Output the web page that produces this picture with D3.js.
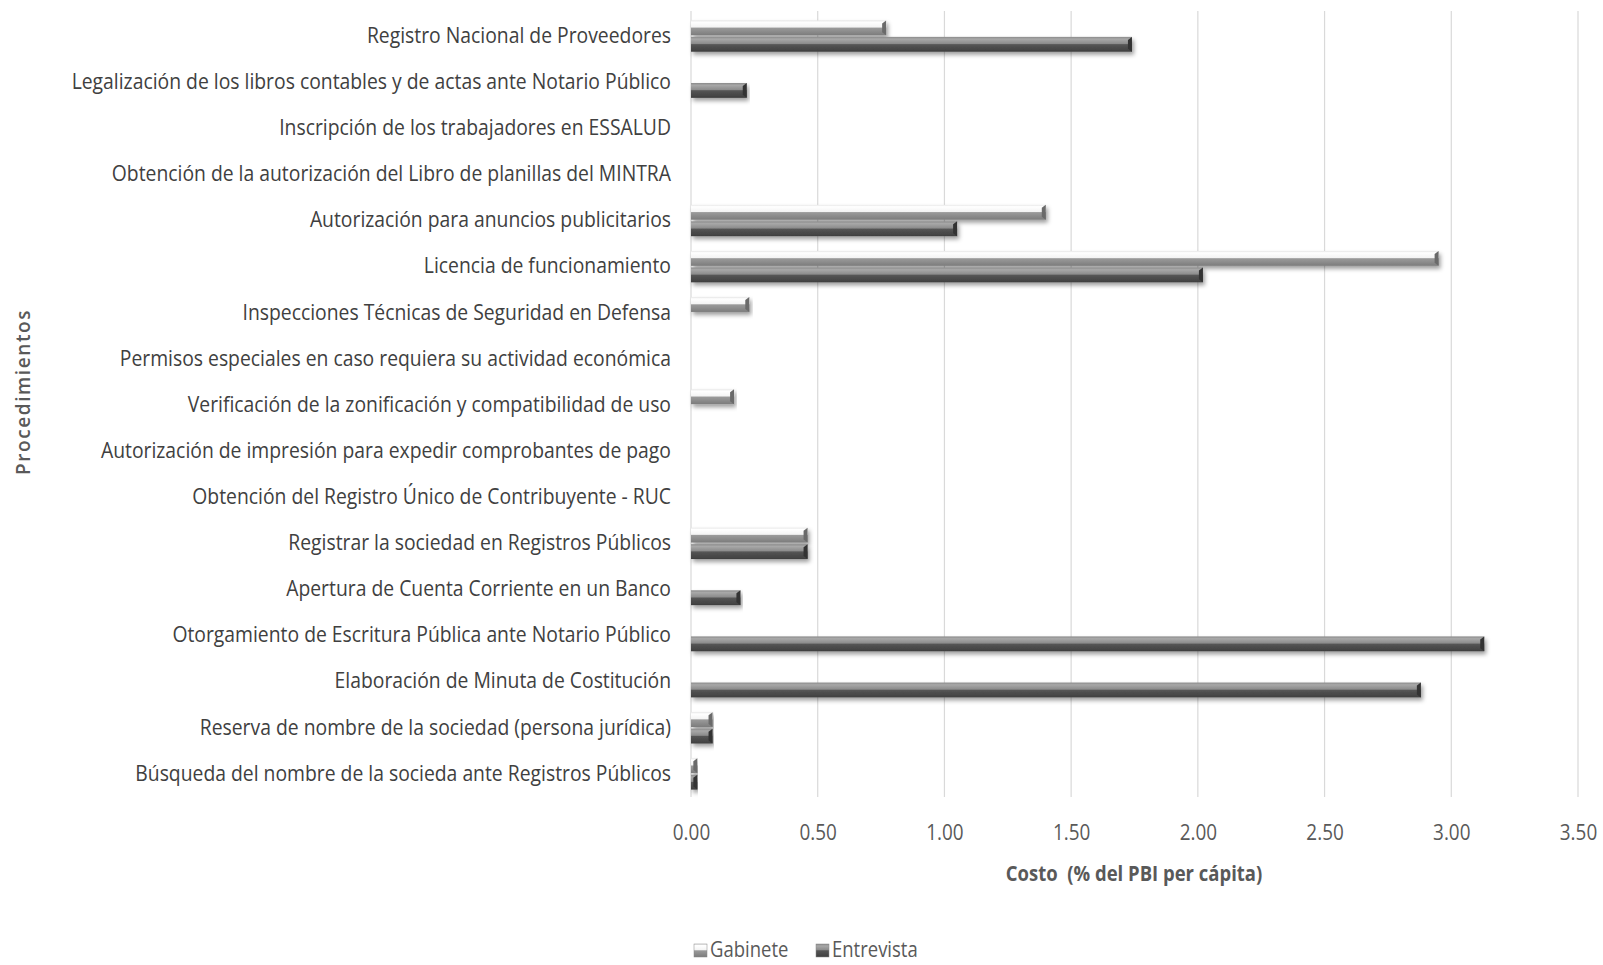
<!DOCTYPE html>
<html>
<head>
<meta charset="utf-8">
<script src="https://cdn.jsdelivr.net/npm/d3@7"></script>
<style>
  body { margin: 0; background: #fff; }
  svg { display: block; }
</style>
</head>
<body>
<svg id="chart"></svg>
<script>
// Procedures, top to bottom
const categories = [
    "Registro Nacional de Proveedores",
    "Legalización de los libros contables y de actas ante Notario Público",
    "Inscripción de los trabajadores en ESSALUD",
    "Obtención de la autorización del Libro de planillas del MINTRA",
    "Autorización para anuncios publicitarios",
    "Licencia de funcionamiento",
    "Inspecciones Técnicas de Seguridad en Defensa",
    "Permisos especiales en caso requiera su actividad económica",
    "Verificación de la zonificación y compatibilidad de uso",
    "Autorización de impresión para expedir comprobantes de pago",
    "Obtención del Registro Único de Contribuyente - RUC",
    "Registrar la sociedad en Registros Públicos",
    "Apertura de Cuenta Corriente en un Banco",
    "Otorgamiento de Escritura Pública ante Notario Público",
    "Elaboración de Minuta de Costitución",
    "Reserva de nombre de la sociedad (persona jurídica)",
    "Búsqueda del nombre de la socieda ante Registros Públicos"
];

const series = ["Gabinete", "Entrevista"];

const gabinete = [0.77, 0, 0, 0, 1.40, 2.95, 0.23, 0, 0.17, 0, 0, 0.46, 0, 0, 0, 0.085, 0.025];
const entrevista = [1.74, 0.22, 0, 0, 1.05, 2.02, 0, 0, 0, 0, 0, 0.46, 0.195, 3.13, 2.88, 0.085, 0.025];

const xTicks = [0, 0.5, 1, 1.5, 2, 2.5, 3, 3.5];

const width = 1603;
const height = 965;
const plot = { left: 691, right: 1578, top: 13, bottom: 797 };
const squeeze = 0.86; // narrow the font to look like the condensed original
const font = "'Open Sans', sans-serif";

const svg = d3.select("#chart")
    .attr("width", width)
    .attr("height", height);

// Gradients for the bevelled bar look
const defs = svg.append("defs");
const gradStops = {
    Gabinete: [["0%", "#e6e6e6"], ["12%", "#ffffff"], ["45%", "#f4f4f4"], ["52%", "#9a9a9a"], ["100%", "#7c7c7c"]],
    Entrevista: [["0%", "#8a8a8a"], ["15%", "#a8a8a8"], ["45%", "#8c8c8c"], ["52%", "#555555"], ["100%", "#3f3f3f"]]
};
series.forEach(s => {
    const g = defs.append("linearGradient")
        .attr("id", "grad-" + s)
        .attr("x1", 0).attr("y1", 0).attr("x2", 0).attr("y2", 1);
    gradStops[s].forEach(([o, c]) => g.append("stop").attr("offset", o).attr("stop-color", c));
});
const shadow = defs.append("filter").attr("id", "shadow")
    .attr("x", "-5%").attr("y", "-40%").attr("width", "110%").attr("height", "200%");
shadow.append("feDropShadow")
    .attr("dx", 2).attr("dy", 3).attr("stdDeviation", 2.2)
    .attr("flood-color", "#000").attr("flood-opacity", 0.38);

// Scales
const x = d3.scaleLinear()
    .domain([0, 3.5])
    .range([plot.left, plot.right]);

const y0 = d3.scaleBand()
    .domain(categories)
    .range([plot.top, plot.bottom])
    .paddingInner(0.32)
    .paddingOuter(0.16);

const y1 = d3.scaleBand()
    .domain(series)
    .range([0, y0.bandwidth()])
    .paddingInner(0.1);

// Gridlines
svg.append("g")
    .selectAll("line")
    .data(xTicks)
    .join("line")
    .attr("x1", d => x(d)).attr("x2", d => x(d))
    .attr("y1", plot.top - 2).attr("y2", plot.bottom)
    .attr("stroke", "#d9d9d9")
    .attr("stroke-width", 1.2);

// X axis tick labels
const xAxis = svg.append("g")
    .attr("transform", `translate(0, ${plot.bottom})`)
    .call(d3.axisBottom(x).tickValues(xTicks).tickFormat(d3.format(".2f")).tickSize(0).tickPadding(27));
xAxis.select(".domain").remove();
xAxis.selectAll("text")
    .style("font-family", font)
    .style("font-size", "22px")
    .attr("fill", "#595959")
    .attr("transform", `scale(${squeeze},1)`);

// Y axis category labels
const yAxis = svg.append("g")
    .attr("transform", `translate(${plot.left}, 0)`)
    .call(d3.axisLeft(y0).tickSize(0).tickPadding(20));
yAxis.select(".domain").remove();
yAxis.selectAll("text")
    .style("font-family", font)
    .style("font-size", "22.5px")
    .attr("fill", "#404040")
    .attr("x", -20 / squeeze)
    .attr("dy", "0.3em")
    .attr("transform", `scale(${squeeze},1)`);

// Bars
const rows = categories.map((c, i) => ({ cat: c, values: [
    { key: "Gabinete", value: gabinete[i] },
    { key: "Entrevista", value: entrevista[i] }
]}));

const groups = svg.append("g")
    .selectAll("g")
    .data(rows)
    .join("g")
    .attr("transform", d => `translate(0, ${y0(d.cat)})`);

groups.selectAll("rect")
    .data(d => d.values.filter(v => v.value > 0))
    .join("rect")
    .attr("x", x(0))
    .attr("y", d => y1(d.key))
    .attr("width", d => x(d.value) - x(0))
    .attr("height", y1.bandwidth())
    .attr("fill", d => `url(#grad-${d.key})`)
    .attr("filter", "url(#shadow)");

// Right-end bevel
groups.selectAll("path.bevel")
    .data(d => d.values.filter(v => v.value > 0))
    .join("path")
    .attr("class", "bevel")
    .attr("d", d => {
        const xe = x(d.value), yt = y1(d.key), h = y1.bandwidth();
        return `M${xe - 4},${yt + 3}L${xe},${yt}L${xe},${yt + h}L${xe - 4},${yt + h - 3}Z`;
    })
    .attr("fill", d => d.key === "Gabinete" ? "#6a6a6a" : "#333");

// Axis titles
svg.append("text")
    .attr("transform", `translate(1134, 881) scale(${squeeze},1)`)
    .attr("text-anchor", "middle")
    .attr("xml:space", "preserve")
    .style("white-space", "pre")
    .style("font-family", font)
    .style("font-size", "21.5px")
    .style("font-weight", "bold")
    .attr("fill", "#595959")
    .text("Costo  (% del PBI per cápita)");

svg.append("text")
    .attr("transform", "translate(30, 392) rotate(-90)")
    .attr("text-anchor", "middle")
    .style("font-family", font)
    .style("font-size", "19px")
    .style("font-weight", "600")
    .style("letter-spacing", "1.6px")
    .attr("fill", "#595959")
    .text("Procedimientos");

// Legend
const legendX = [694, 816];
const legend = svg.append("g")
    .selectAll("g")
    .data(series)
    .join("g")
    .attr("transform", (d, i) => `translate(${legendX[i]}, 944)`);

legend.append("rect")
    .attr("width", 13).attr("height", 13)
    .attr("fill", d => `url(#grad-${d})`)
    .attr("stroke", "#888").attr("stroke-width", 0.5);

legend.append("text")
    .attr("transform", `translate(16, 13) scale(${squeeze},1)`)
    .style("font-family", font)
    .style("font-size", "21.5px")
    .attr("fill", "#595959")
    .text(d => d);
</script>
</body>
</html>
